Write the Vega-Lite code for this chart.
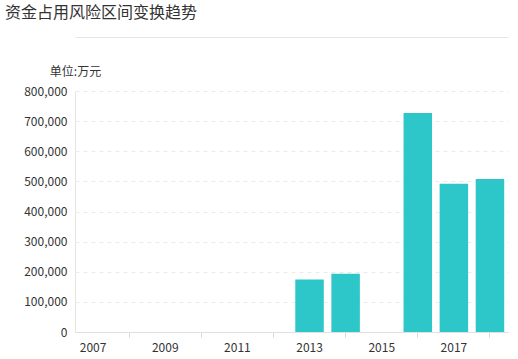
{
  "$schema": "https://vega.github.io/schema/vega-lite/v6.json",
  "width": 433,
  "height": 241,
  "autosize": {"type": "none"},
  "padding": {"left": 75, "top": 91, "right": 10, "bottom": 27},
  "background": "white",
  "title": {
    "text": "资金占用风险区间变换趋势",
    "anchor": "start",
    "frame": "group",
    "dx": -70,
    "offset": 0,
    "baseline": "bottom",
    "fontSize": 16,
    "font": "Noto Sans CJK SC",
    "fontWeight": "normal",
    "color": "#333333"
  },
  "data": {
    "values": [
      {"year": "2007", "value": 0},
      {"year": "2008", "value": 0},
      {"year": "2009", "value": 0},
      {"year": "2010", "value": 0},
      {"year": "2011", "value": 0},
      {"year": "2012", "value": 0},
      {"year": "2013", "value": 174000},
      {"year": "2014", "value": 193000},
      {"year": "2015", "value": 0},
      {"year": "2016", "value": 727000},
      {"year": "2017", "value": 492000},
      {"year": "2018", "value": 508000}
    ]
  },
  "layer": [
    {
      "mark": {"type": "bar", "color": "#2ec7c9"},
      "encoding": {
        "x": {
          "field": "year",
          "type": "ordinal",
          "scale": {"paddingInner": 0.21, "paddingOuter": 0.105},
          "axis": {
            "orient": "bottom",
            "title": null,
            "labelAngle": 0,
            "labelPadding": 5,
            "labelFontSize": 12,
            "labelColor": "#333333",
            "labelFont": "Noto Sans CJK SC",
            "labelExpr": "toNumber(datum.value) % 2 == 1 ? datum.label : ''",
            "domainColor": "#e0e0e0",
            "tickColor": "#d8d8d8",
            "tickSize": 5,
            "tickOpacity": {"condition": {"test": "toNumber(datum.value) % 2 == 0", "value": 1}, "value": 0},
            "grid": false
          }
        },
        "y": {
          "field": "value",
          "type": "quantitative",
          "scale": {"domain": [0, 800000]},
          "axis": {
            "title": "单位:万元",
            "titleAngle": 0,
            "titleX": 0,
            "titleY": -20,
            "titleAlign": "center",
            "titleBaseline": "middle",
            "titleFontSize": 12,
            "titleFontWeight": "normal",
            "titleColor": "#333333",
            "titleFont": "Noto Sans CJK SC",
            "values": [0, 100000, 200000, 300000, 400000, 500000, 600000, 700000, 800000],
            "format": ",.0f",
            "labelColor": "#333333",
            "labelFontSize": 12,
            "labelFont": "Noto Sans CJK SC",
            "labelPadding": 8,
            "ticks": false,
            "domainColor": "#e6e6e6",
            "gridColor": "#ebebeb",
            "gridDash": [4, 4]
          }
        }
      }
    },
    {
      "mark": {"type": "bar", "opacity": 0},
      "encoding": {
        "x": {
          "field": "year",
          "type": "ordinal",
          "axis": {
            "orient": "top",
            "offset": 54,
            "title": null,
            "labels": false,
            "ticks": false,
            "grid": false,
            "domainColor": "#e6e6e6"
          }
        }
      }
    }
  ],
  "resolve": {"axis": {"x": "independent"}},
  "config": {"view": {"stroke": null}}
}
